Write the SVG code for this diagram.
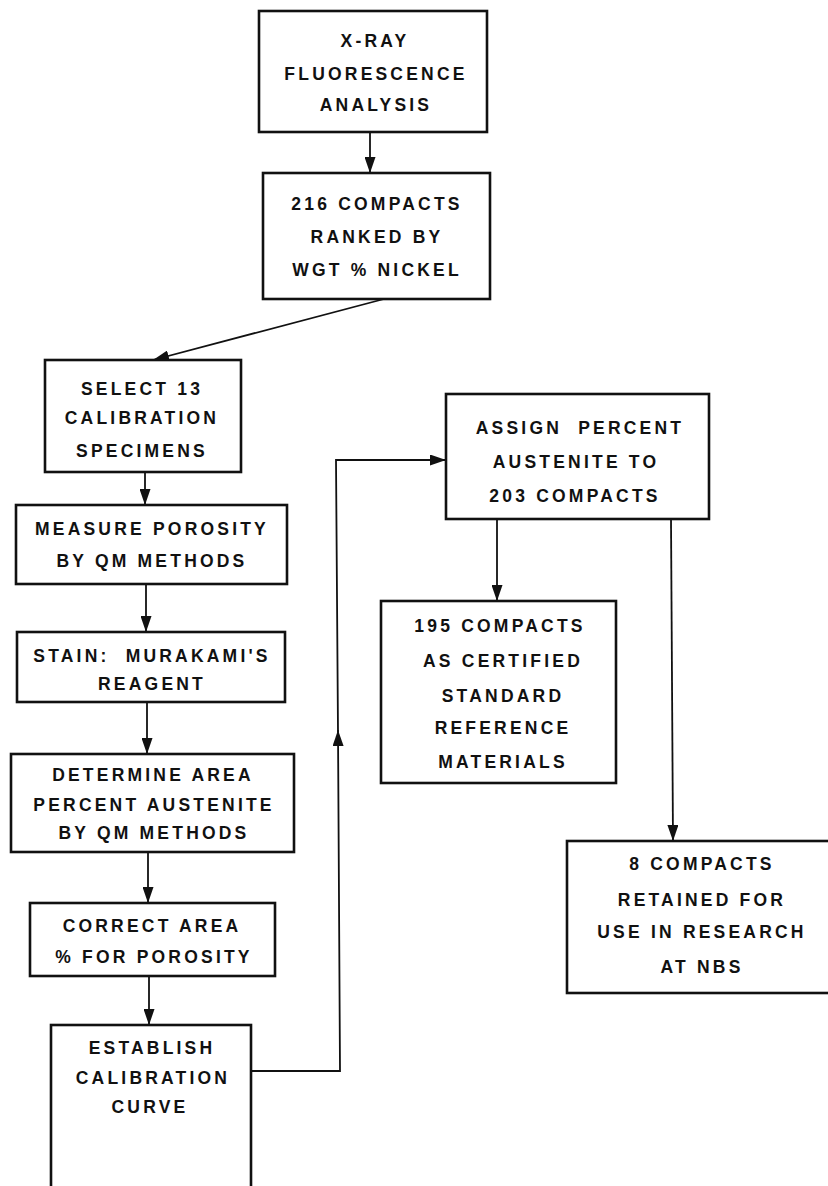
<svg xmlns="http://www.w3.org/2000/svg" width="828" height="1186" viewBox="0 0 828 1186">
<defs>
<style>
.box{fill:#fff;stroke:#111;stroke-width:2.6}
.t{font-family:"Liberation Sans",Arial,sans-serif;font-size:17.5px;font-weight:bold;letter-spacing:3.2px;fill:#111;text-anchor:middle}
.c{fill:none;stroke:#111;stroke-width:1.8}
</style>
<marker id="ah" viewBox="0 0 16 11" refX="16" refY="5.5" markerWidth="16" markerHeight="11" markerUnits="userSpaceOnUse" orient="auto">
<path d="M0,0 L16,5.5 L0,11 Z" fill="#111"/>
</marker>
</defs>
<rect width="828" height="1186" fill="#fff"/>
<g id="connectors">
<line class="c" x1="370" y1="132" x2="370" y2="173" marker-end="url(#ah)"/>
<line class="c" x1="384" y1="299" x2="153" y2="360" marker-end="url(#ah)"/>
<line class="c" x1="145" y1="472" x2="145" y2="505" marker-end="url(#ah)"/>
<line class="c" x1="146" y1="584" x2="146" y2="632" marker-end="url(#ah)"/>
<line class="c" x1="147" y1="702" x2="147" y2="754" marker-end="url(#ah)"/>
<line class="c" x1="148" y1="852" x2="148" y2="903" marker-end="url(#ah)"/>
<line class="c" x1="149" y1="976" x2="149" y2="1025" marker-end="url(#ah)"/>
<path class="c" d="M251,1071 L340,1071 L338,730" marker-end="url(#ah)"/>
<path class="c" d="M338,732 L336,460 L446,460" marker-end="url(#ah)"/>
<line class="c" x1="497" y1="519" x2="497" y2="601" marker-end="url(#ah)"/>
<line class="c" x1="671" y1="519" x2="673" y2="841" marker-end="url(#ah)"/>
</g>
<g id="n1"><rect class="box" x="259" y="11" width="228" height="121"/>
<text class="t" x="375" y="47">X-RAY</text><text class="t" x="376" y="80">FLUORESCENCE</text><text class="t" x="376" y="111">ANALYSIS</text></g>
<g id="n2"><rect class="box" x="263" y="173" width="227" height="126"/>
<text class="t" x="377" y="210">216 COMPACTS</text><text class="t" x="377" y="243">RANKED BY</text><text class="t" x="377" y="276">WGT % NICKEL</text></g>
<g id="n3"><rect class="box" x="45" y="360" width="196" height="112"/>
<text class="t" x="142" y="395">SELECT 13</text><text class="t" x="142" y="424">CALIBRATION</text><text class="t" x="142" y="457">SPECIMENS</text></g>
<g id="n4"><rect class="box" x="16" y="505" width="271" height="79"/>
<text class="t" x="152" y="535">MEASURE POROSITY</text><text class="t" x="152" y="567">BY QM METHODS</text></g>
<g id="n5"><rect class="box" x="17" y="632" width="268" height="70"/>
<text class="t" x="152" y="662">STAIN:&#160; MURAKAMI'S</text><text class="t" x="152" y="690">REAGENT</text></g>
<g id="n6"><rect class="box" x="11" y="754" width="283" height="98"/>
<text class="t" x="153" y="781">DETERMINE AREA</text><text class="t" x="154" y="811">PERCENT AUSTENITE</text><text class="t" x="154" y="839">BY QM METHODS</text></g>
<g id="n7"><rect class="box" x="30" y="903" width="245" height="73"/>
<text class="t" x="152" y="932">CORRECT AREA</text><text class="t" x="154" y="963">% FOR POROSITY</text></g>
<g id="n8"><rect class="box" x="51" y="1025" width="200" height="170"/>
<text class="t" x="152" y="1054">ESTABLISH</text><text class="t" x="153" y="1084">CALIBRATION</text><text class="t" x="150" y="1113">CURVE</text></g>
<g id="n9"><rect class="box" x="446" y="394" width="263" height="125"/>
<text class="t" x="580" y="434">ASSIGN&#160; PERCENT</text><text class="t" x="576" y="468">AUSTENITE TO</text><text class="t" x="575" y="502">203 COMPACTS</text></g>
<g id="n10"><rect class="box" x="381" y="601" width="235" height="182"/>
<text class="t" x="500" y="632">195 COMPACTS</text><text class="t" x="503" y="667">AS CERTIFIED</text><text class="t" x="503" y="702">STANDARD</text><text class="t" x="503" y="734">REFERENCE</text><text class="t" x="503" y="768">MATERIALS</text></g>
<g id="n11"><rect class="box" x="567" y="841" width="266" height="152"/>
<text class="t" x="702" y="870">8 COMPACTS</text><text class="t" x="702" y="906">RETAINED FOR</text><text class="t" x="702" y="938">USE IN RESEARCH</text><text class="t" x="702" y="973">AT NBS</text></g>
</svg>
